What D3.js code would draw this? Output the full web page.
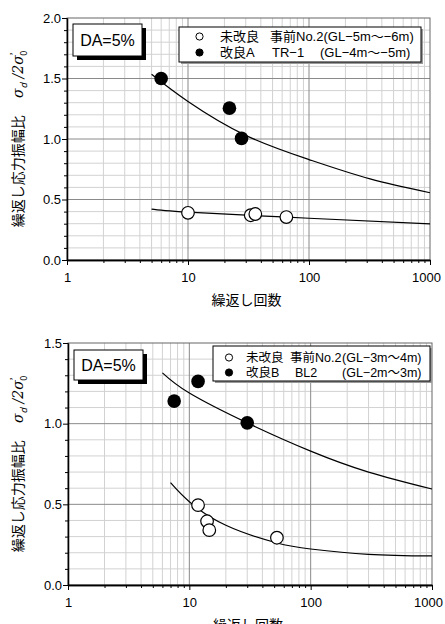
<!DOCTYPE html>
<html>
<head>
<meta charset="utf-8">
<script src="https://cdn.jsdelivr.net/npm/d3@7"></script>
<style>
  body { margin: 0; background: #fff; }
  svg { display: block; font-family: "Liberation Sans", "Noto Sans CJK JP", sans-serif; }
</style>
</head>
<body>
<script>
'use strict';

// x ticks (log), y ticks
const xTicks = [1, 10, 100, 1000];
const yTicksTop = [0, 0.5, 1.0, 1.5, 2.0];
const yTicksBottom = [0, 0.5, 1.0, 1.5];

// top chart: 未改良 (open) and 改良A (filled), plus fitted curves
const topOpen = [[10, 0.39], [33, 0.37], [36, 0.38], [65, 0.355]];
const topFilled = [[6, 1.50], [22, 1.255], [27.7, 1.005]];
const topFitFilled = [[5, 1.535], [10, 1.31], [30, 1.03], [100, 0.83], [320, 0.67], [1000, 0.556]];
const topFitOpen = [[5, 0.42], [10, 0.395], [100, 0.345], [1000, 0.298]];

// bottom chart: 未改良 (open) and 改良B (filled)
const botOpen = [[11.8, 0.495], [14, 0.395], [14.6, 0.34], [52.7, 0.293]];
const botFilled = [[7.5, 1.14], [11.8, 1.262], [30, 1.005]];
const botFitFilled = [[6, 1.315], [10, 1.19], [30, 1.005], [100, 0.83], [300, 0.70], [1000, 0.595]];
const botFitOpen = [[7, 0.634], [10, 0.516], [20, 0.37], [52, 0.262], [100, 0.223], [300, 0.19], [1000, 0.18]];

const topLegend = [
  ['未改良', '事前No.2(GL−5m～−6m)', ''],
  ['改良A', 'TR−1', '(GL−4m～−5m)']
];
const botLegend = [
  ['未改良', '事前No.2', '(GL−3m～4m)'],
  ['改良B', 'BL2', '(GL−2m～3m)']
];

let svg = d3.select('body').append('svg').attr('width', 445).attr('height', 624);

function drawPanel(p) {
  let x = d3.scaleLog().domain([1, 1000]).range([p.left, p.right]);
  let y = d3.scaleLinear().domain([0, p.yMax]).range([p.bottom, p.top]);
  let g = svg.append('g');

  // minor grid
  let minorX = [];
  [1, 10, 100].forEach(d => { for (let i = 2; i <= 9; i++) minorX.push(d * i); });
  let minorY = d3.range(0, Math.round(p.yMax * 10) + 1).map(d => d / 10).filter(d => Math.round(d * 10) % 5 !== 0);
  g.selectAll('.gx').data(minorX).enter().append('line')
    .attr('x1', d => x(d)).attr('x2', d => x(d)).attr('y1', p.top).attr('y2', p.bottom)
    .attr('stroke', '#d2d2d2').attr('stroke-width', 1);
  g.selectAll('.gy').data(minorY).enter().append('line')
    .attr('x1', p.left).attr('x2', p.right).attr('y1', d => y(d)).attr('y2', d => y(d))
    .attr('stroke', '#d2d2d2').attr('stroke-width', 1);
  // major grid
  g.selectAll('.mx').data([10, 100]).enter().append('line')
    .attr('x1', d => x(d)).attr('x2', d => x(d)).attr('y1', p.top).attr('y2', p.bottom)
    .attr('stroke', '#8a8a8a').attr('stroke-width', 1);
  g.selectAll('.my').data(p.yTicks.slice(1, -1)).enter().append('line')
    .attr('x1', p.left).attr('x2', p.right).attr('y1', d => y(d)).attr('y2', d => y(d))
    .attr('stroke', '#8a8a8a').attr('stroke-width', 1);
  // frame
  g.append('rect').attr('x', p.left).attr('y', p.top).attr('width', p.right - p.left).attr('height', p.bottom - p.top)
    .attr('fill', 'none').attr('stroke', '#666').attr('stroke-width', 1);

  // axes
  let ax = g.append('g').attr('transform', `translate(0,${p.bottom})`)
    .call(d3.axisBottom(x).tickValues(xTicks).tickSize(5).tickSizeOuter(0).tickFormat(d3.format('d')));
  g.append('g').attr('transform', `translate(0,${p.bottom})`)
    .call(d3.axisBottom(x).tickValues(minorX).tickSize(3).tickSizeOuter(0).tickFormat(''));
  let ay = g.append('g').attr('transform', `translate(${p.left},0)`)
    .call(d3.axisLeft(y).tickValues(p.yTicks).tickSize(5).tickSizeOuter(0).tickFormat(d3.format('.1f')));
  g.append('g').attr('transform', `translate(${p.left},0)`)
    .call(d3.axisLeft(y).tickValues(minorY).tickSize(3).tickSizeOuter(0).tickFormat(''));
  g.selectAll('.domain').attr('stroke', '#000').attr('stroke-width', 1.3);
  g.selectAll('.tick line').attr('stroke', '#000');
  ax.selectAll('text').attr('font-size', 13).attr('fill', '#000').attr('dy', '1.1em');
  ay.selectAll('text').attr('font-size', 13).attr('fill', '#000').attr('x', -6);
  ax.select('.tick:last-of-type text').attr('dx', -4);

  // axis titles
  g.append('text').attr('x', (p.left + p.right) / 2 - 2).attr('y', p.bottom + 45)
    .attr('text-anchor', 'middle').attr('font-size', 14).attr('font-family', '"Noto Sans CJK JP", sans-serif')
    .text('繰返し回数');
  let yt = g.append('text').attr('transform', `translate(23,${(p.top + p.bottom) / 2}) rotate(-90)`)
    .attr('text-anchor', 'middle').attr('font-size', 14).attr('font-family', '"Noto Sans CJK JP", sans-serif');
  yt.append('tspan').text('繰返し応力振幅比　 ');
  yt.append('tspan').attr('font-style', 'italic').attr('font-family', '"DejaVu Serif", serif').text('σ');
  yt.append('tspan').attr('font-size', 9).attr('dy', 4).attr('font-style', 'italic').text('d');
  yt.append('tspan').attr('dy', -4).attr('font-family', '"DejaVu Serif", serif').attr('font-style', 'italic').text(' /2');
  yt.append('tspan').attr('font-style', 'italic').attr('font-family', '"DejaVu Serif", serif').text('σ');
  yt.append('tspan').attr('font-size', 9).attr('dy', -6).text('\u2019');
  yt.append('tspan').attr('font-size', 9).attr('dy', 10).attr('dx', -3).text('0');

  // fitted curves
  let line = d3.line().curve(d3.curveNatural).x(d => x(d[0])).y(d => y(d[1]));
  [p.fitFilled, p.fitOpen].forEach(c => {
    g.append('path').datum(c).attr('d', line).attr('fill', 'none').attr('stroke', '#000').attr('stroke-width', 1.2);
  });

  // points
  g.selectAll('.po').data(p.open).enter().append('circle')
    .attr('cx', d => x(d[0])).attr('cy', d => y(d[1])).attr('r', 6.3)
    .attr('fill', '#fff').attr('stroke', '#000').attr('stroke-width', 1.2);
  g.selectAll('.pf').data(p.filled).enter().append('circle')
    .attr('cx', d => x(d[0])).attr('cy', d => y(d[1])).attr('r', 6.8).attr('fill', '#000');

  // DA box
  let b = p.daBox;
  g.append('rect').attr('x', b[0] + 4).attr('y', b[1] + 4).attr('width', b[2]).attr('height', b[3]).attr('fill', '#000');
  g.append('rect').attr('x', b[0]).attr('y', b[1]).attr('width', b[2]).attr('height', b[3])
    .attr('fill', '#fff').attr('stroke', '#000').attr('stroke-width', 1);
  g.append('text').attr('x', b[0] + b[2] / 2).attr('y', b[1] + b[3] / 2 + 6).attr('text-anchor', 'middle')
    .attr('font-size', 16).text('DA=5%');

  // legend
  let l = p.legBox;
  g.append('rect').attr('x', l[0] + 2).attr('y', l[1] + 2).attr('width', l[2]).attr('height', l[3]).attr('fill', '#999');
  g.append('rect').attr('x', l[0]).attr('y', l[1]).attr('width', l[2]).attr('height', l[3])
    .attr('fill', '#fff').attr('stroke', '#000').attr('stroke-width', 1);
  p.legend.forEach((row, i) => {
    let cy = p.legRows[i];
    g.append('circle').attr('cx', p.legMarkX).attr('cy', cy).attr('r', 3.6)
      .attr('fill', i === 0 ? '#fff' : '#000').attr('stroke', '#000').attr('stroke-width', 1);
    row.forEach((t, j) => {
      if (!t) return;
      g.append('text').attr('x', p.legCols[i][j]).attr('y', cy + 4.5).attr('font-size', p.legFont).text(t);
    });
  });
}

drawPanel({
  left: 67, right: 430, top: 18, bottom: 260, yMax: 2.0, yTicks: yTicksTop,
  open: topOpen, filled: topFilled, fitFilled: topFitFilled, fitOpen: topFitOpen,
  daBox: [73, 24, 69, 32],
  legBox: [179, 27, 242, 35], legRows: [36.5, 52.5], legMarkX: 199.5, legFont: 13,
  legCols: [[220, 270, 0], [220, 272, 320]], legend: topLegend
});

drawPanel({
  left: 68, right: 432, top: 343, bottom: 585, yMax: 1.5, yTicks: yTicksBottom,
  open: botOpen, filled: botFilled, fitFilled: botFitFilled, fitOpen: botFitOpen,
  daBox: [74, 350, 69, 30],
  legBox: [213, 346, 217, 35], legRows: [357.5, 372.5], legMarkX: 229, legFont: 12.5,
  legCols: [[246, 290, 342], [246, 295, 342]], legend: botLegend
});
</script>
</body>
</html>
